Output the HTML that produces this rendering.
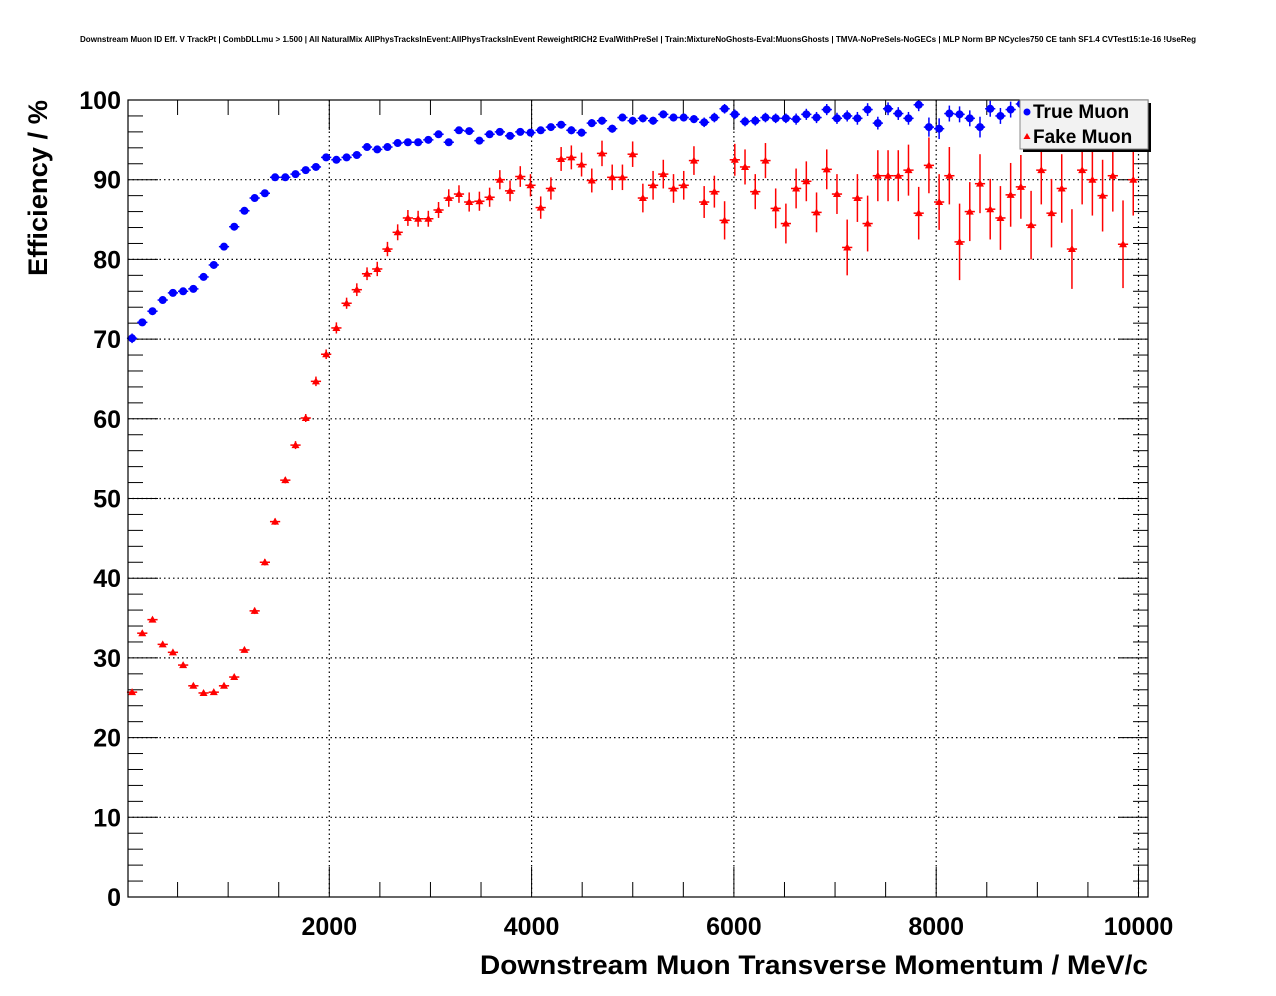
<!DOCTYPE html>
<html><head><meta charset="utf-8">
<style>
body{margin:0;background:#fff;}
svg{display:block;font-family:"Liberation Sans",Arial,sans-serif;}
</style></head>
<body>
<svg id="chart" width="1276" height="996" viewBox="0 0 1276 996" xmlns="http://www.w3.org/2000/svg">
<rect x="0" y="0" width="1276" height="996" fill="#fff"/>
<text x="80" y="42" font-size="8" font-weight="bold" textLength="1116" lengthAdjust="spacingAndGlyphs">Downstream Muon ID Eff. V TrackPt | CombDLLmu &gt; 1.500 | All NaturalMix AllPhysTracksInEvent:AllPhysTracksInEvent ReweightRICH2 EvalWithPreSel | Train:MixtureNoGhosts-Eval:MuonsGhosts | TMVA-NoPreSels-NoGECs | MLP Norm BP NCycles750 CE tanh SF1.4 CVTest15:1e-16 !UseReg</text>
<g id="grid"></g>
<g id="axes"></g>
<g id="blue"></g>
<g id="red"></g>
<rect x="128" y="100" width="1020" height="797" fill="none" stroke="#000" stroke-width="1.2"/>
<text transform="translate(47,188) rotate(-90)" font-size="27" font-weight="bold" text-anchor="middle" textLength="176" lengthAdjust="spacingAndGlyphs">Efficiency / %</text>
<text x="480" y="974" font-size="27" font-weight="bold" textLength="668" lengthAdjust="spacingAndGlyphs">Downstream Muon Transverse Momentum / MeV/c</text>
<g>
<rect x="1023" y="103" width="128" height="49" fill="#000"/>
<rect x="1020" y="100" width="128" height="49" fill="#f2f2f2" stroke="#888" stroke-width="1"/>
<circle cx="1027" cy="112" r="3.5" fill="#00f"/>
<text x="1033" y="118" font-size="19" font-weight="bold">True Muon</text>
<polygon points="1027,133 1023.5,139 1030.5,139" fill="#f00"/>
<text x="1033" y="143" font-size="19" font-weight="bold">Fake Muon</text>
</g>
</svg>
<script>
const trueEff = [70.1,72.1,73.5,74.9,75.8,76.0,76.3,77.8,79.3,81.6,84.1,86.1,87.7,88.3,90.3,90.3,90.7,91.2,91.6,92.8,92.5,92.8,93.1,94.1,93.8,94.1,94.6,94.7,94.7,95.0,95.7,94.7,96.2,96.1,94.9,95.7,96.0,95.5,96.0,95.9,
96.2,96.6,96.9,96.2,95.9,97.1,97.4,96.4,97.8,97.4,97.7,97.4,98.2,97.8,97.8,97.6,97.2,97.8,98.9,98.2,97.3,97.4,97.8,97.7,97.7,97.6,98.2,97.8,98.8,97.7,98.0,97.7,98.8,97.1,98.9,98.3,97.7,99.4,96.6,96.4,98.3,98.2,97.7,96.6,98.9,98.0,98.8,99.5,
99.2,98.8,99.5,99.0,98.5,99.3,99.0,98.7,99.4,99.1,99.0];
const trueErr = [0.6,0.4,0.4,0.3,0.3,0.3,0.3,0.3,0.3,0.3,0.3,0.3,0.3,0.3,0.3,0.3,0.3,0.3,0.3,0.3,0.3,0.3,0.3,0.3,0.3,0.3,0.3,0.3,0.3,0.3,0.3,0.3,0.3,0.3,0.4,0.4,0.4,0.4,0.4,0.4,
0.4,0.4,0.4,0.5,0.5,0.5,0.5,0.5,0.5,0.5,0.5,0.5,0.5,0.5,0.5,0.5,0.6,0.6,0.6,0.6,0.6,0.6,0.6,0.6,0.6,0.7,0.7,0.7,0.7,0.7,0.7,0.8,0.8,0.8,0.8,0.8,0.8,0.8,1.2,1.3,1.0,1.0,1.0,1.3,1.0,1.0,1.0,1.0,
1.0,1.0,1.0,1.1,1.1,1.1,1.1,1.1,1.2,1.2,1.2];
const fakeEff = [25.7,33.1,34.8,31.7,30.7,29.1,26.5,25.6,25.7,26.5,27.6,31.0,35.9,42.0,47.1,52.3,56.7,60.1,64.7,68.1,71.4,74.5,76.2,78.2,78.8,81.3,83.4,85.2,85.1,85.1,86.2,87.7,88.2,87.2,87.3,87.8,90.0,88.6,90.4,89.3,86.5,
88.9,92.6,92.8,91.9,89.9,93.3,90.3,90.3,93.2,87.7,89.3,90.7,88.9,89.3,92.4,87.2,88.5,84.9,92.5,91.6,88.5,92.4,86.4,84.5,88.9,89.8,85.9,91.3,88.2,81.5,87.7,84.5,90.5,90.5,90.5,91.2,85.8,91.8,87.2,90.5,82.2,86.0,89.5,86.3,85.2,88.1,89.1,84.3,91.2,85.8,88.9,81.3,91.2,90.0,88.0,90.5,81.9,90.0];
const fakeErr = [0.3,0.3,0.3,0.3,0.3,0.3,0.3,0.3,0.3,0.3,0.3,0.3,0.4,0.4,0.4,0.4,0.5,0.5,0.6,0.6,0.7,0.7,0.8,0.8,0.9,0.9,1.0,1.0,1.0,1.0,1.0,1.1,1.1,1.2,1.2,1.2,1.2,1.3,1.3,1.4,1.4,
1.4,1.5,1.5,1.5,1.5,1.6,1.6,1.6,1.6,1.8,1.8,1.8,1.8,1.8,1.8,2.0,2.0,2.4,2.0,2.2,2.2,2.2,2.5,2.5,2.5,2.5,2.5,2.5,2.5,3.5,3.0,3.5,3.2,3.2,3.2,3.2,3.3,3.5,3.5,3.6,4.8,3.7,3.7,3.8,4.0,4.0,4.0,4.3,4.3,4.3,4.3,5.0,4.3,4.5,4.5,4.5,5.5,4.5];
const xTicks = [2000,4000,6000,8000,10000];
const yTicks = [0,10,20,30,40,50,60,70,80,90,100];
const binStart = 50, binWidth = 101;

const NS='http://www.w3.org/2000/svg';
const X0=127, XS=0.10115, Y0=897, YS=7.97;
function xs(v){return X0+v*XS;}
function ys(v){return Y0-v*YS;}
function mk(tag,attrs,parent){const e=document.createElementNS(NS,tag);for(const k in attrs)e.setAttribute(k,attrs[k]);parent.appendChild(e);return e;}
const grid=document.getElementById('grid'), axes=document.getElementById('axes');
const dash={stroke:'#000','stroke-width':1.2,'stroke-dasharray':'1.5,3'};
xTicks.forEach(t=>{
  if(xs(t)<1146){const g=mk('line',Object.assign({x1:xs(t),x2:xs(t),y1:100,y2:897},dash),grid);
  
  }
  const l=mk('text',{x:xs(t),y:935,'font-size':25,'font-weight':'bold','text-anchor':'middle'},axes);
  l.textContent=t;
  
  
});
yTicks.forEach(t=>{
  if(t>0&&t<100){const g=mk('line',Object.assign({x1:128,x2:1148,y1:ys(t),y2:ys(t)},dash),grid);
  
  }
  const l=mk('text',{x:121,y:ys(t)+9,'font-size':25,'font-weight':'bold','text-anchor':'end'},axes);
  l.textContent=t;
  
  
});
for(let v=500;v<10100;v+=500){
  const len=(v%2000===0)?30:15;
  mk('line',{x1:xs(v),x2:xs(v),y1:897,y2:897-len,stroke:'#000','stroke-width':1},axes);
  mk('line',{x1:xs(v),x2:xs(v),y1:100,y2:100+len,stroke:'#000','stroke-width':1},axes);
}
for(let v=2;v<100;v+=2){
  const len=(v%10===0)?30:15;
  mk('line',{x1:128,x2:128+len,y1:ys(v),y2:ys(v),stroke:'#000','stroke-width':1},axes);
  mk('line',{x1:1148,x2:1148-len,y1:ys(v),y2:ys(v),stroke:'#000','stroke-width':1},axes);
}
function drawSeries(vals,errs,gid,color,shape){
  const g=document.getElementById(gid);
  vals.forEach((v,i)=>{
    const c=binStart+binWidth*i;
    const cx=xs(c), cy=ys(v);
    if(cy<100) return;
    mk('line',{x1:xs(c-binWidth/2),x2:xs(c+binWidth/2),y1:cy,y2:cy,stroke:color,'stroke-width':1.5},g);
    const lo=Math.min(ys(v-errs[i]),897), hi=Math.max(ys(v+errs[i]),100);
    mk('line',{x1:cx,x2:cx,y1:lo,y2:hi,stroke:color,'stroke-width':1.5},g);
    let m;
    if(shape==='circle') m=mk('circle',{cx:cx,cy:cy,r:4,fill:color},g);
    else m=mk('polygon',{points:`${cx},${cy-4} ${cx-4},${cy+3} ${cx+4},${cy+3}`,fill:color},g);
    
    
  });
}
drawSeries(fakeEff,fakeErr,'red','#f00','tri');
drawSeries(trueEff,trueErr,'blue','#00f','circle');
</script>
</body></html>
